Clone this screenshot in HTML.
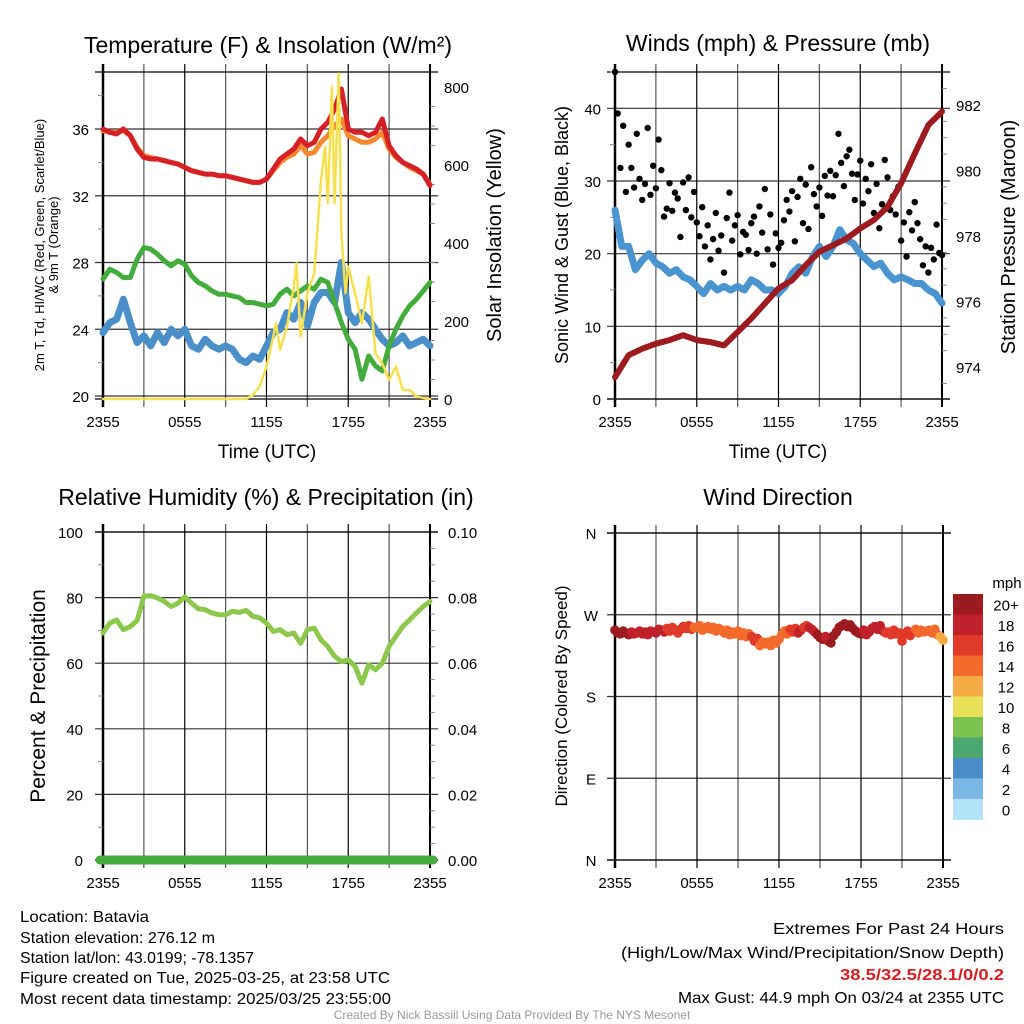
<!DOCTYPE html>
<html><head><meta charset="utf-8"><style>
html,body{margin:0;padding:0;background:#fff;}
svg{display:block;font-family:"Liberation Sans",sans-serif;}
</style></head><body>
<svg id="fig" width="1024" height="1024" viewBox="0 0 1024 1024">
<g font-family="'Liberation Sans Narrow','Liberation Sans',sans-serif" font-size="16" fill="#000">
<text x="20" y="922" textLength="129" lengthAdjust="spacingAndGlyphs">Location: Batavia</text>
<text x="20" y="943" textLength="195" lengthAdjust="spacingAndGlyphs">Station elevation: 276.12 m</text>
<text x="20" y="963" textLength="234" lengthAdjust="spacingAndGlyphs">Station lat/lon: 43.0199; -78.1357</text>
<text x="20" y="983" textLength="370" lengthAdjust="spacingAndGlyphs">Figure created on Tue, 2025-03-25, at 23:58 UTC</text>
<text x="20" y="1004" textLength="371" lengthAdjust="spacingAndGlyphs">Most recent data timestamp: 2025/03/25 23:55:00</text>
<text x="773" y="934" textLength="231" lengthAdjust="spacingAndGlyphs">Extremes For Past 24 Hours</text>
<text x="621" y="958" textLength="383" lengthAdjust="spacingAndGlyphs">(High/Low/Max Wind/Precipitation/Snow Depth)</text>
<text x="840" y="980" textLength="164" lengthAdjust="spacingAndGlyphs" fill="#d42020" font-weight="bold">38.5/32.5/28.1/0/0.2</text>
<text x="678" y="1003" textLength="326" lengthAdjust="spacingAndGlyphs">Max Gust: 44.9 mph On 03/24 at 2355 UTC</text>
<text x="512" y="1019" text-anchor="middle" font-size="12" fill="#999">Created By Nick Bassill Using Data Provided By The NYS Mesonet</text>
</g>
</svg>
<script>
// ---- data (hours since 2355 UTC) ----
const halfHours = Array.from({length:49},(_,i)=>i*0.5);
const tempRed = [36.0,35.8,35.7,36.0,35.6,34.8,34.3,34.2,34.2,34.1,34.0,33.9,33.7,33.5,33.4,33.3,33.3,33.2,33.2,33.1,33.0,32.9,32.8,32.8,33.0,33.6,34.2,34.5,34.8,35.4,35.0,35.2,36.0,36.4,37.2,38.4,36.0,35.8,35.8,35.6,35.8,36.6,35.0,34.4,34.0,33.8,33.6,33.3,32.6];
const tempOrange = [35.9,35.8,35.8,35.9,35.6,34.9,34.4,34.3,34.2,34.1,34.0,33.9,33.7,33.5,33.4,33.3,33.3,33.2,33.2,33.1,33.0,32.9,32.8,32.8,33.0,33.5,34.0,34.3,34.5,35.0,34.5,34.6,35.2,35.6,36.2,36.6,35.6,35.4,35.2,35.2,35.4,35.8,34.8,34.3,34.0,33.7,33.5,33.3,32.7];
const dewpoint = [27.0,27.6,27.4,27.1,27.1,28.2,28.9,28.8,28.5,28.1,27.8,28.1,27.9,27.2,26.8,26.6,26.3,26.1,26.1,26.0,25.9,25.6,25.6,25.5,25.4,25.5,26.1,26.4,26.0,26.3,26.6,26.4,27.0,26.8,25.6,24.4,23.4,22.8,21.0,22.4,21.8,21.5,23.0,24.0,24.8,25.4,25.8,26.3,26.8];
const heatIndex = [23.8,24.4,24.6,25.8,24.4,23.2,23.6,23.0,23.8,23.2,24.0,23.6,24.0,23.0,22.8,23.4,23.0,22.8,23.0,22.8,22.2,22.0,22.4,22.2,23.0,23.8,24.0,25.0,24.6,25.6,24.2,25.6,26.2,26.2,25.6,28.0,25.0,24.4,25.0,24.6,24.0,23.4,23.0,23.2,23.6,23.0,23.2,23.4,23.0];
const solarHours = [0,10.5,11,11.5,12,12.5,12.7,13,13.5,14,14.2,14.5,15,15.5,16,16.3,16.5,16.8,17,17.3,17.5,17.8,18,18.5,19,19.5,20,20.5,21,21.5,22,22.5,23,24];
const solar = [0,0,10,32,83,160,194,126,185,288,348,160,271,322,561,647,502,800,502,835,425,271,339,271,194,314,117,91,49,83,23,23,6,0];
const hours = Array.from({length:25},(_,i)=>i);
const pressure = [973.69,974.36,974.56,974.71,974.82,974.97,974.82,974.76,974.66,975.07,975.48,975.94,976.40,976.65,977.11,977.52,977.72,977.92,978.23,978.49,978.89,979.61,980.52,981.39,981.80];
const sonicWind = [26.0,21.0,21.0,17.8,19.1,20.0,18.7,18.2,17.3,17.8,16.8,16.4,15.5,14.5,15.9,15.0,15.5,15.0,15.5,15.0,16.4,15.9,15.0,15.0,14.5,15.5,17.3,18.2,17.3,19.6,21.0,19.6,21.0,23.3,21.9,21.4,20.0,19.1,18.2,18.7,17.3,16.4,16.8,16.4,15.9,15.9,15.0,14.5,13.2];
const gusts = [45.0,39.3,31.8,37.6,28.5, 35.0,31.8,29.1,36.5,30.3, 27.4,29.6,37.3,28.1,32.1, 29.0,35.7,31.5,25.1,26.2, 29.7,25.9,28.4,27.6,22.3, 29.8,26.0,30.5,25.0,28.5, 24.3,22.4,26.4,21.0,23.9, 19.2,22.0,25.6,20.4,22.5, 17.4,24.9,28.4,21.8,23.9, 25.3,19.9,23.0,22.6,20.5, 24.2,25.1,20.0,26.5,22.9, 28.9,20.6,25.4,18.5,22.8, 20.8,21.5,24.6,27.4,25.8, 28.6,21.7,27.8,30.3,24.2, 29.5,23.4,31.9,28.2,26.5, 29.1,25.2,30.7,28.0,31.4, 27.9,30.8,36.5,32.5,29.3, 33.4,34.3,31.0,27.4,30.9, 32.8,26.9,30.3,28.6,32.3, 25.6,29.6,23.5,26.8,32.9, 30.5,26.0,27.9,25.4,29.2, 21.8,24.3,19.6,25.7,23.2, 27.1,24.2,22.0,18.4,21.0, 17.4,20.8,19.2,24.0,20.1, 19.8];
const relHum = [69.2,72.2,73.2,70.2,71.2,73.0,80.4,80.6,79.9,78.8,77.3,78.3,80.2,78.3,76.6,76.3,75.3,74.8,74.8,75.8,75.5,76.1,74.3,73.8,72.2,69.7,70.2,68.7,69.2,66.1,70.2,70.7,67.1,65.1,62.1,60.5,61.0,59.0,53.9,59.5,58.0,60.0,65.1,68.2,71.2,73.2,75.3,77.3,78.8];
const precip = [0,0,0,0,0,0,0,0,0,0,0,0,0,0,0,0,0,0,0,0,0,0,0,0,0];
const windDir = [253,250,249,252,250, 248,251,249,250,252, 249,251,248,252,251, 250,254,253,251,255, 252,256,253,250,254, 257,255,258,254,256, 256,258,253,255,257, 254,256,252,255,253, 250,253,248,251,249, 252,247,250,246,249, 246,241,244,236,240, 238,240,236,242,239, 243,248,252,249,254, 251,255,250,253,256, 258,256,254,251,248, 245,243,246,241,239, 247,251,256,258,260, 257,259,255,252,250, 249,253,248,251,255, 257,254,258,252,250, 251,248,253,249,250, 241,249,252,247,251, 254,250,253,251,252, 253,250,254,248,246, 242];
const xTickLabels = ["2355","0555","1155","1755","2355"];
const tempTicks = [20,24,28,32,36];
const solarTicks = [0,200,400,600,800];
const windTicks = [0,10,20,30,40];
const presTicks = [974,976,978,980,982];
const rhTicks = [0,20,40,60,80,100];
const precipTicks = ["0.00","0.02","0.04","0.06","0.08","0.10"];
const dirTicks = ["N","E","S","W","N"];
const speedLevels = ["0","2","4","6","8","10","12","14","16","18","20+"];
const speedColors = ["#b4e2f6","#7ab8e4","#4a8fc8","#4aa870","#7dc24c","#e8e05a","#f6aa46","#f26a2c","#e03a2a","#c0202a","#9b1b1e"];

const NS="http://www.w3.org/2000/svg";
const svg=document.getElementById('fig');
function mk(tag,attrs,parent){const e=document.createElementNS(NS,tag);for(const k in attrs)e.setAttribute(k,attrs[k]);(parent||svg).appendChild(e);return e;}
function txt(s,attrs,parent){const e=mk('text',attrs,parent);e.textContent=s;return e;}

function panel(name,L,R,T,B){
  const g=mk('g',{});
  
  
  return {g,L,R,T,B,x:h=>L+h/24*(R-L)};
}
function lin(d0,d1,p0,p1){return v=>p0+(v-d0)/(d1-d0)*(p1-p0);}
function grid(p,yvals,ys){
  for(let i=0;i<=8;i++){
    const x=p.L+i*(p.R-p.L)/8;
    const l=mk('line',{x1:x,x2:x,y1:p.T-8,y2:p.B+8,stroke:i%2?'#555':'#000','stroke-width':1.2},p.g);
    
    
  }
  yvals.forEach(v=>{
    const y=ys(v);
    const l=mk('line',{x1:p.L-8,x2:p.R+8,y1:y,y2:y,stroke:'#000','stroke-width':1.2,'stroke-opacity':0.8},p.g);
    
    
  });
  mk('line',{x1:p.L-8,x2:p.R+8,y1:p.T,y2:p.T,stroke:'#000','stroke-width':1.2},p.g);
  mk('line',{x1:p.L-8,x2:p.R+8,y1:p.B,y2:p.B,stroke:'#000','stroke-width':1.2},p.g);
  mk('line',{x1:p.L,x2:p.L,y1:p.T-8,y2:p.B+8,stroke:'#000','stroke-width':2.5},p.g);
  mk('line',{x1:p.R,x2:p.R,y1:p.T-8,y2:p.B+8,stroke:'#000','stroke-width':2},p.g);
  xTickLabels.forEach((s,i)=>{
    const t=txt(s,{x:p.L+i*(p.R-p.L)/4,y:p.B+28,'text-anchor':'middle','font-size':15},p.g);
    
    
  });
}
function minor(p,side,vals,ys){
  vals.forEach(v=>{const y=ys(v);const x=side==='L'?p.L:p.R;
    mk('line',{x1:side==='L'?x-5:x,x2:side==='L'?x:x+5,y1:y,y2:y,stroke:'#888','stroke-width':1},p.g);});
}
function path(p,xs,ys,xf,yf,attrs,name){
  let d='';xs.forEach((h,i)=>{d+=(i?'L':'M')+xf(h).toFixed(1)+','+yf(ys[i]).toFixed(1);});
  const e=mk('path',Object.assign({d,fill:'none','stroke-linejoin':'round','stroke-linecap':'round'},attrs),p.g);
  
  
  return e;
}
function title(s,x,y,name,size){const t=txt(s,{x,y,'text-anchor':'middle','font-size':size||23});return t;}
function vtitle(s,x,y,size,name){const t=txt(s,{x:0,y:0,'text-anchor':'middle','font-size':size,transform:`translate(${x},${y}) rotate(-90)`});return t;}

// ===== Panel 1: Temperature =====
{
const p=panel('temperature-panel',103,430,72,399);
const yT=lin(20,36,396,129), yS=lin(0,800,399,87);
grid(p,tempTicks,yT);
minor(p,'L',[22,26,30,34,38],yT);
minor(p,'R',[50,100,150,250,300,350,450,500,550,650,700,750],yS);
tempTicks.forEach(v=>{const t=txt(String(v),{x:p.L-14,y:yT(v)+6,'text-anchor':'end','font-size':15},p.g);});
solarTicks.forEach(v=>{const t=txt(String(v),{x:p.R+14,y:yS(v)+6,'font-size':15},p.g);});
path(p,halfHours,heatIndex,p.x,yT,{stroke:'#4a8fc8','stroke-width':7},'heat-index-line');
path(p,halfHours,dewpoint,p.x,yT,{stroke:'#44ac3c','stroke-width':5},'dewpoint-line');
path(p,halfHours,tempOrange,p.x,yT,{stroke:'#f4892e','stroke-width':5},'temp-9m-line');
path(p,halfHours,tempRed,p.x,yT,{stroke:'#d42026','stroke-width':5},'temp-2m-line');
path(p,solarHours,solar,p.x,yS,{stroke:'#f7e04e','stroke-width':2.5},'solar-line');
title('Temperature (F) & Insolation (W/m²)',268,53,'temperature-title');
txt('Time (UTC)',{x:267,y:458,'text-anchor':'middle','font-size':19});
vtitle('2m T, Td, HI/WC (Red, Green, Scarlet/Blue)',44,245,13,'temp-y-title-1');
vtitle('& 9m T (Orange)',58,245,13,'temp-y-title-2');
vtitle('Solar Insolation (Yellow)',501,235,20,'solar-y-title');
}
// ===== Panel 2: Winds =====
{
const p=panel('winds-panel',615,942,72,399);
const yW=lin(0,45,399,72), yP=lin(974,982,367,105);
grid(p,windTicks,yW);
minor(p,'L',[5,15,25,35,45],yW);
minor(p,'R',[973.5,974.5,975,975.5,976.5,977,977.5,978.5,979,979.5,980.5,981,981.5,982.5],yP);
windTicks.forEach(v=>{const t=txt(String(v),{x:p.L-14,y:yW(v)+6,'text-anchor':'end','font-size':15},p.g);});
presTicks.forEach(v=>{const t=txt(String(v),{x:p.R+14,y:yP(v)+6,'font-size':15},p.g);});
path(p,halfHours,sonicWind,p.x,yW,{stroke:'#4a94d0','stroke-width':7},'sonic-wind-line');
gusts.forEach((g,i)=>{const c=mk('circle',{cx:p.x(i*0.2),cy:yW(g),r:3.2,fill:'#000'},p.g);

});
path(p,hours,pressure,p.x,yP,{stroke:'#9b1b1e','stroke-width':6},'pressure-line');
title('Winds (mph) & Pressure (mb)',778,51,'winds-title');
txt('Time (UTC)',{x:778,y:458,'text-anchor':'middle','font-size':19});
vtitle('Sonic Wind & Gust (Blue, Black)',568,235,18,'wind-y-title');
vtitle('Station Pressure (Maroon)',1015,237,20,'pressure-y-title');
}
// ===== Panel 3: RH =====
{
const p=panel('humidity-panel',103,430,532,860);
const yR=lin(0,100,860,532), yPr=lin(0,0.1,860,532);
grid(p,rhTicks,yR);
minor(p,'L',[10,30,50,70,90],yR);
minor(p,'R',[0.005,0.01,0.015,0.025,0.03,0.035,0.045,0.05,0.055,0.065,0.07,0.075,0.085,0.09,0.095],yPr);
rhTicks.forEach(v=>{const t=txt(String(v),{x:p.L-20,y:yR(v)+6,'text-anchor':'end','font-size':15},p.g);});
precipTicks.forEach((s,i)=>{const t=txt(s,{x:p.R+18,y:yR(i*20)+6,'font-size':15},p.g);});
path(p,hours,precip,h=>p.L-3+h/24*(p.R-p.L+6),yPr,{stroke:'#44ac3c','stroke-width':9},'precip-line');
path(p,halfHours,relHum,p.x,yR,{stroke:'#8cc84c','stroke-width':5},'rh-line');
title('Relative Humidity (%) & Precipitation (in)',266,505,'humidity-title');
vtitle('Percent & Precipitation',45,696,21,'rh-y-title');
}
// ===== Panel 4: Wind direction =====
{
const p=panel('wind-direction-panel',615,943,533,860);
const yD=lin(0,360,860,533);
grid(p,[0,90,180,270,360],yD);
dirTicks.forEach((s,i)=>{const t=txt(s,{x:591,y:yD(i*90)+6,'text-anchor':'middle','font-size':15},p.g);});
function speedAt(h){const i=Math.min(Math.floor(h*2),47);const f=h*2-i;return sonicWind[i]*(1-f)+sonicWind[i+1]*f;}
windDir.forEach((d,i)=>{const h=i*0.2;const s=speedAt(h);const bin=Math.max(0,Math.min(10,Math.floor(s/2)));
const c=mk('circle',{cx:p.x(h),cy:yD(d),r:4.8,fill:speedColors[bin]},p.g);

});
title('Wind Direction',778,505,'direction-title');
vtitle('Direction (Colored By Speed)',567,696,17,'direction-y-title');
const cb=mk('g',{});


const top=594,bh=20.5;
speedLevels.forEach((lab,i)=>{const k=10-i;const y=top+i*bh;
const r=mk('rect',{x:953,y:y,width:30,height:bh+0.5,fill:speedColors[k]},cb);


const t=txt(speedLevels[k],{x:1006,y:y+bh/2+6,'text-anchor':'middle','font-size':15},cb);

});
txt('mph',{x:1007,y:588,'text-anchor':'middle','font-size':15},cb);
}
</script>
</body></html>
